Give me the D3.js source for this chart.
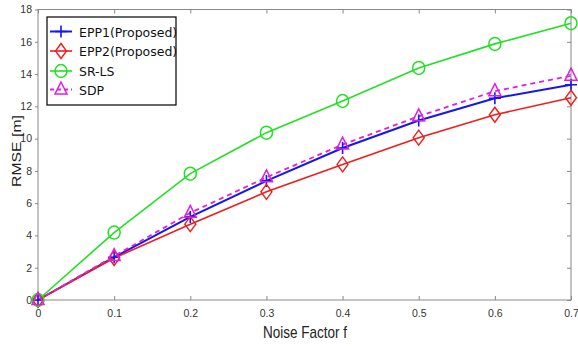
<!DOCTYPE html>
<html><head><meta charset="utf-8">
<script src="https://cdn.jsdelivr.net/npm/d3@7"></script>
<style>body{margin:0;background:#fff}svg{display:block}</style>
</head><body><svg id="c" width="578" height="346"></svg>
<script>
const noise = [0, 0.1, 0.2, 0.3, 0.4, 0.5, 0.6, 0.7];
const epp1 = [0, 2.65, 5.15, 7.38, 9.42, 11.12, 12.5, 13.34];
const epp2 = [0, 2.6, 4.7, 6.7, 8.4, 10.06, 11.48, 12.53];
const srls = [0, 4.18, 7.83, 10.37, 12.33, 14.38, 15.87, 17.15];
const sdp = [0, 2.72, 5.4, 7.6, 9.63, 11.38, 12.94, 13.9];
const xTicks = [0, 0.1, 0.2, 0.3, 0.4, 0.5, 0.6, 0.7];
const yTicks = [0, 2, 4, 6, 8, 10, 12, 14, 16, 18];
const seriesNames = ["EPP1(Proposed)", "EPP2(Proposed)", "SR-LS", "SDP"];

const svg = d3.select("#c");
const x = d3.scaleLinear().domain([0, 0.7]).range([38, 571]);
const y = d3.scaleLinear().domain([0, 18]).range([300, 9.5]);
const axisCol = "#888";

svg.append("rect").attr("x", 38).attr("y", 9.5).attr("width", 533).attr("height", 290.5)
  .attr("fill", "none").attr("stroke", axisCol).attr("stroke-width", 1);

const gx = svg.append("g").attr("transform", "translate(0,300)")
  .call(d3.axisBottom(x).tickValues(xTicks).tickSizeInner(-4).tickSizeOuter(0).tickPadding(10)
    .tickFormat(d => d === 0 ? "0" : d3.format(".1f")(d)));
gx.select(".domain").remove();
gx.selectAll("line").attr("stroke", axisCol);
gx.selectAll("text").attr("fill", "#333").style("font-family", "Liberation Sans, Arial, sans-serif").style("font-size", "10.5px");
const gt = svg.append("g").attr("transform", "translate(0,9.5)")
  .call(d3.axisTop(x).tickValues(xTicks).tickSizeInner(-4).tickSizeOuter(0).tickFormat(""));
gt.select(".domain").remove();
gt.selectAll("line").attr("stroke", axisCol);
const gy = svg.append("g").attr("transform", "translate(38,0)")
  .call(d3.axisLeft(y).tickValues(yTicks).tickSizeInner(3).tickSizeOuter(0).tickPadding(3));
gy.select(".domain").remove();
gy.selectAll("line").attr("stroke", axisCol);
gy.selectAll("text").attr("fill", "#333").style("font-family", "Liberation Sans, Arial, sans-serif").style("font-size", "10.5px");
const gr = svg.append("g").attr("transform", "translate(571,0)")
  .call(d3.axisRight(y).tickValues(yTicks).tickSizeInner(-4).tickSizeOuter(0).tickFormat(""));
gr.select(".domain").remove();
gr.selectAll("line").attr("stroke", axisCol);

svg.append("text").attr("x", 305).attr("y", 338).attr("text-anchor", "middle")
  .style("font-family", "Liberation Sans, Arial, sans-serif").style("font-size", "17px").attr("fill", "#222")
  .attr("textLength", 84).attr("lengthAdjust", "spacingAndGlyphs")
  .text("Noise Factor f");
svg.append("text").attr("transform", "translate(20.5,151) rotate(-90) scale(1,0.78)").attr("text-anchor", "middle")
  .style("font-family", "Liberation Sans, Arial, sans-serif").style("font-size", "16px").attr("fill", "#222")
  .attr("textLength", 72).attr("lengthAdjust", "spacingAndGlyphs")
  .text("RMSE [m]");

const series = [
  {name: seriesNames[0], vals: epp1, color: "#1515f0", w: 2, dash: null, marker: "plus"},
  {name: seriesNames[1], vals: epp2, color: "#f01c1c", w: 1.6, dash: null, marker: "diamond"},
  {name: seriesNames[2], vals: srls, color: "#22e022", w: 1.6, dash: null, marker: "circle"},
  {name: seriesNames[3], vals: sdp, color: "#e020e0", w: 1.8, dash: "5,4", marker: "triangle"}
];

function drawMarker(g, type, cx, cy, color) {
  if (type === "plus") {
    g.append("path").attr("d", `M${cx-6},${cy}H${cx+6}M${cx},${cy-6}V${cy+6}`)
      .attr("stroke", color).attr("stroke-width", 1.6).attr("fill", "none");
  } else if (type === "diamond") {
    g.append("path").attr("d", `M${cx},${cy-7.5}L${cx+5.5},${cy}L${cx},${cy+7.5}L${cx-5.5},${cy}Z`)
      .attr("stroke", color).attr("stroke-width", 1.4).attr("fill", "none");
  } else if (type === "circle") {
    g.append("ellipse").attr("cx", cx).attr("cy", cy).attr("rx", 6).attr("ry", 6.5)
      .attr("stroke", color).attr("stroke-width", 1.5).attr("fill", "none");
  } else if (type === "triangle") {
    g.append("path").attr("d", `M${cx},${cy-7.5}L${cx+6},${cy+4.5}L${cx-6},${cy+4.5}Z`)
      .attr("stroke", color).attr("stroke-width", 1.5).attr("fill", "none");
  }
}

const line = d3.line().x((d, i) => x(noise[i])).y(d => y(d));
series.forEach(s => {
  svg.append("path").datum(s.vals).attr("d", line).attr("fill", "none")
    .attr("stroke", s.color).attr("stroke-width", s.w).attr("stroke-dasharray", s.dash);
});
series.forEach(s => {
  const g = svg.append("g");
  s.vals.forEach((v, i) => drawMarker(g, s.marker, x(noise[i]), y(v), s.color));
});

const lg = svg.append("g");
lg.append("rect").attr("x", 47).attr("y", 17).attr("width", 129).attr("height", 88)
  .attr("fill", "#fff").attr("stroke", "#000").attr("stroke-width", 1.2);
const rowY = [31.5, 51, 71, 89.5];
series.forEach((s, i) => {
  const yy = rowY[i];
  lg.append("line").attr("x1", 50).attr("x2", 72).attr("y1", yy).attr("y2", yy)
    .attr("stroke", s.color).attr("stroke-width", s.w).attr("stroke-dasharray", s.dash ? "4,3" : null);
  drawMarker(lg, s.marker, 61, yy, s.color);
  lg.append("text").attr("x", 79).attr("y", yy + 5).text(s.name)
    .style("font-family", "DejaVu Sans, sans-serif").style("font-size", "12.5px").attr("fill", "#111");
});
</script></body></html>
